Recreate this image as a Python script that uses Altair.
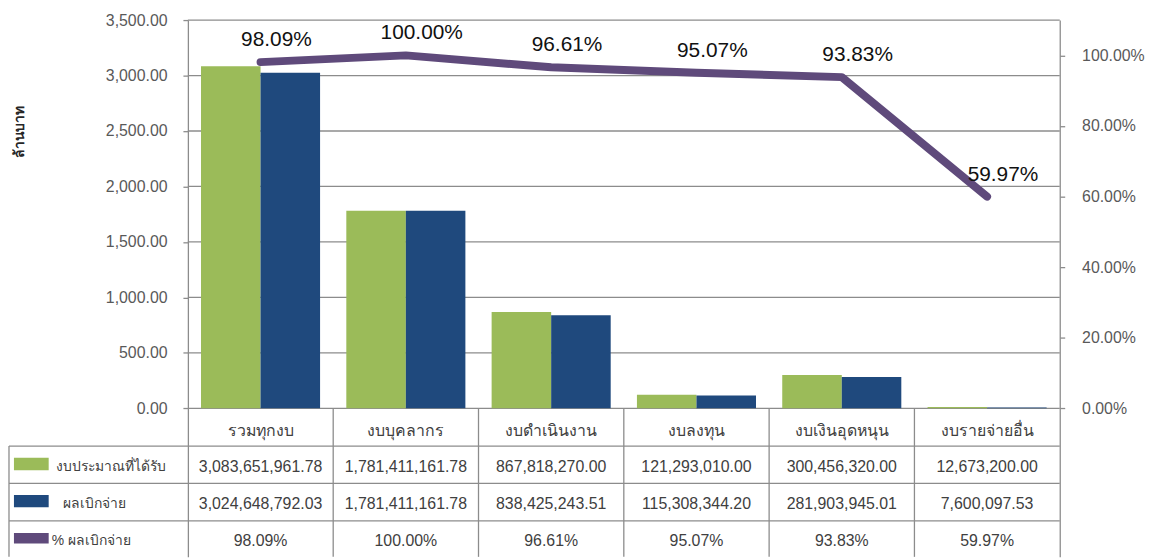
import altair as alt
import pandas as pd

# ---------------- data ----------------
categories = ["รวมทุกงบ", "งบบุคลากร", "งบดำเนินงาน", "งบลงทุน", "งบเงินอุดหนุน", "งบรายจ่ายอื่น"]
budget = [3083651961.78, 1781411161.78, 867818270.00, 121293010.00, 300456320.00, 12673200.00]
spent = [3024648792.03, 1781411161.78, 838425243.51, 115308344.20, 281903945.01, 7600097.53]
pct = [98.09, 100.00, 96.61, 95.07, 93.83, 59.97]
series_names = ["งบประมาณที่ได้รับ", "ผลเบิกจ่าย", "% ผลเบิกจ่าย"]
series_colors = ["#9BBB59", "#1F497D", "#5F4A7B"]
left_ticks = [0, 500, 1000, 1500, 2000, 2500, 3000, 3500]
right_ticks = [0, 0.2, 0.4, 0.6, 0.8, 1.0]

# ---------------- layout ----------------
W, H = 1059, 541
PAD_L, PAD_T = 1, 10
LEFT_PX = 180.3
CAT_PX = (W - LEFT_PX) / 6
X_LO, X_HI = -LEFT_PX / CAT_PX, 6
ZERO_PX = 391.3
Y_TOP = 3500
U = Y_TOP / ZERO_PX
Y_LO = -(H - ZERO_PX) * U
P_TOP = 1.10
P_LO = Y_LO / Y_TOP * P_TOP
BW = 60 / CAT_PX


def below(px):
    return -px * U


def xpage(px):
    return (px - 8 - PAD_L - LEFT_PX) / CAT_PX


GRID = "#8c8c8c"
FONT = "Tahoma, 'Liberation Sans', 'Noto Sans', sans-serif"
TXT = "#404040"
FS = 16

SX = alt.Scale(domain=[X_LO, X_HI], nice=False, zero=False)
SL = alt.Scale(domain=[Y_LO, Y_TOP], nice=False, zero=False)
SP = alt.Scale(domain=[P_LO, P_TOP], nice=False, zero=False)

AX_L = alt.Axis(values=left_ticks, format=",.2f", offset=-LEFT_PX, grid=False,
                domainColor=GRID, domainWidth=1.3, tickColor=GRID, tickWidth=1.3, tickSize=5,
                labelFont=FONT, labelFontSize=FS, labelColor="#595959", labelPadding=16,
                title="ล้านบาท", titleX=-170, titleY=112, titleAngle=270,
                titleAlign="center", titleBaseline="middle", titleFont=FONT,
                titleFontSize=14, titleFontWeight="bold", titleColor="#262626")
AX_R = alt.Axis(orient="right", values=right_ticks, format=".2%", grid=False,
                domainColor=GRID, domainWidth=1.3, tickColor=GRID, tickWidth=1.3, tickSize=5,
                labelFont=FONT, labelFontSize=FS, labelColor="#595959", labelPadding=17,
                title=None)


def yL(field):
    return alt.Y(f"{field}:Q", scale=SL, axis=AX_L)


def xQ(field):
    return alt.X(f"{field}:Q", scale=SX, axis=None)


# gridlines / plot frame
grid = alt.Chart(pd.DataFrame({"v": left_ticks})).transform_calculate(
    x0="0", x1=str(X_HI)
).mark_rule(color=GRID, strokeWidth=1.3).encode(x=xQ("x0"), x2="x1:Q", y=yL("v"))

# bars
df_b = pd.DataFrame({"i": list(range(6)), "v": [b / 1e6 for b in budget]})
df_s = pd.DataFrame({"i": list(range(6)), "v": [s / 1e6 for s in spent]})
bars_g = alt.Chart(df_b).transform_calculate(
    x0=f"datum.i + 0.5 - {BW}", x1="datum.i + 0.5", y0="0"
).mark_rect(color=series_colors[0]).encode(x=xQ("x0"), x2="x1:Q", y=yL("v"), y2="y0:Q")
bars_n = alt.Chart(df_s).transform_calculate(
    x0="datum.i + 0.5", x1=f"datum.i + 0.5 + {BW}", y0="0"
).mark_rect(color=series_colors[1]).encode(x=xQ("x0"), x2="x1:Q", y=yL("v"), y2="y0:Q")

# table lines
ROW_LINES = [below(38), below(75.7), below(113.4)]
hlines = alt.Chart(pd.DataFrame({"v": ROW_LINES})).transform_calculate(
    x0=str(X_LO), x1=str(X_HI)
).mark_rule(color=GRID, strokeWidth=1.3).encode(x=xQ("x0"), x2="x1:Q", y=yL("v"))
df_v = pd.DataFrame({"x": [X_LO, 1, 2, 3, 4, 5],
                     "y0": [ROW_LINES[0], 0, 0, 0, 0, 0],
                     "y1": [Y_LO] * 6})
vlines = alt.Chart(df_v).mark_rule(color=GRID, strokeWidth=1.3).encode(
    x=xQ("x"), y=yL("y0"), y2="y1:Q")

# header row
HEAD_Y = below(22.4)
head = alt.Chart(pd.DataFrame({"i": list(range(6)), "cat": categories})).transform_calculate(
    x="datum.i + 0.5", y=str(HEAD_Y)
).mark_text(font=FONT, fontSize=FS, color=TXT, align="center", baseline="middle").encode(
    x=xQ("x"), y=yL("y"), text="cat:N")

# cells
ROW_Y = [below(58.7), below(96.7), below(134.0)]
rows = []
for r, arr in enumerate([budget, spent, [p / 100 for p in pct]]):
    for i, v in enumerate(arr):
        rows.append({"r": r, "i": i, "v": v})
cells = alt.Chart(pd.DataFrame(rows)).transform_calculate(
    x="datum.i + 0.5",
    y=f"[{ROW_Y[0]}, {ROW_Y[1]}, {ROW_Y[2]}][datum.r]",
    label="format(datum.v, datum.r < 2 ? ',.2f' : '.2%')",
).mark_text(font=FONT, fontSize=FS, color=TXT, align="center", baseline="middle").encode(
    x=xQ("x"), y=yL("y"), text="label:N")

# legend column (swatches + names)
SW_C = [56.0, 93.5, 131.0]
SW_H = [6.3, 6.2, 5.3]
df_sw = pd.DataFrame({
    "color": series_colors,
    "x0": [xpage(14)] * 3, "x1": [xpage(49)] * 3,
    "y0": [below(c - h) for c, h in zip(SW_C, SW_H)],
    "y1": [below(c + h) for c, h in zip(SW_C, SW_H)],
})
swatches = alt.Chart(df_sw).mark_rect().encode(
    x=xQ("x0"), x2="x1:Q", y=yL("y0"), y2="y1:Q", color=alt.Color("color:N", scale=None))

LAB_X = [xpage(56), xpage(63), xpage(52)]
df_rl = pd.DataFrame({"name": series_names, "x": LAB_X, "y": ROW_Y})
rowlab = alt.Chart(df_rl).mark_text(font=FONT, fontSize=14, color=TXT, align="left",
                                    baseline="middle").encode(x=xQ("x"), y=yL("y"), text="name:N")

A = alt.layer(grid, bars_g, bars_n, hlines, vlines, head, cells, swatches, rowlab)

# percentage line
df_l = pd.DataFrame({"i": list(range(6)), "p": [p / 100 for p in pct]})
line = alt.Chart(df_l).transform_calculate(x="datum.i + 0.5").mark_line(
    color=series_colors[2], strokeWidth=8, strokeCap="round", strokeJoin="round"
).encode(x=xQ("x"), y=alt.Y("p:Q", scale=SP, axis=AX_R))
plabels = alt.Chart(df_l).transform_calculate(x="datum.i + 0.5").mark_text(
    font=FONT, fontSize=21, color="#111111", dy=-22, dx=16, align="center", baseline="middle"
).encode(x=xQ("x"), y=alt.Y("p:Q", scale=SP, axis=AX_R), text=alt.Text("p:Q", format=".2%"))

B = alt.layer(line, plabels)

chart = alt.layer(A, B).resolve_scale(y="independent").properties(
    width=W, height=H,
    autosize=alt.AutoSizeParams(type="none"),
    padding={"left": PAD_L, "top": PAD_T, "right": 95, "bottom": 0},
).configure_view(stroke=None)

chart.save("out.html", embed_options={"renderer": "svg", "actions": False})
